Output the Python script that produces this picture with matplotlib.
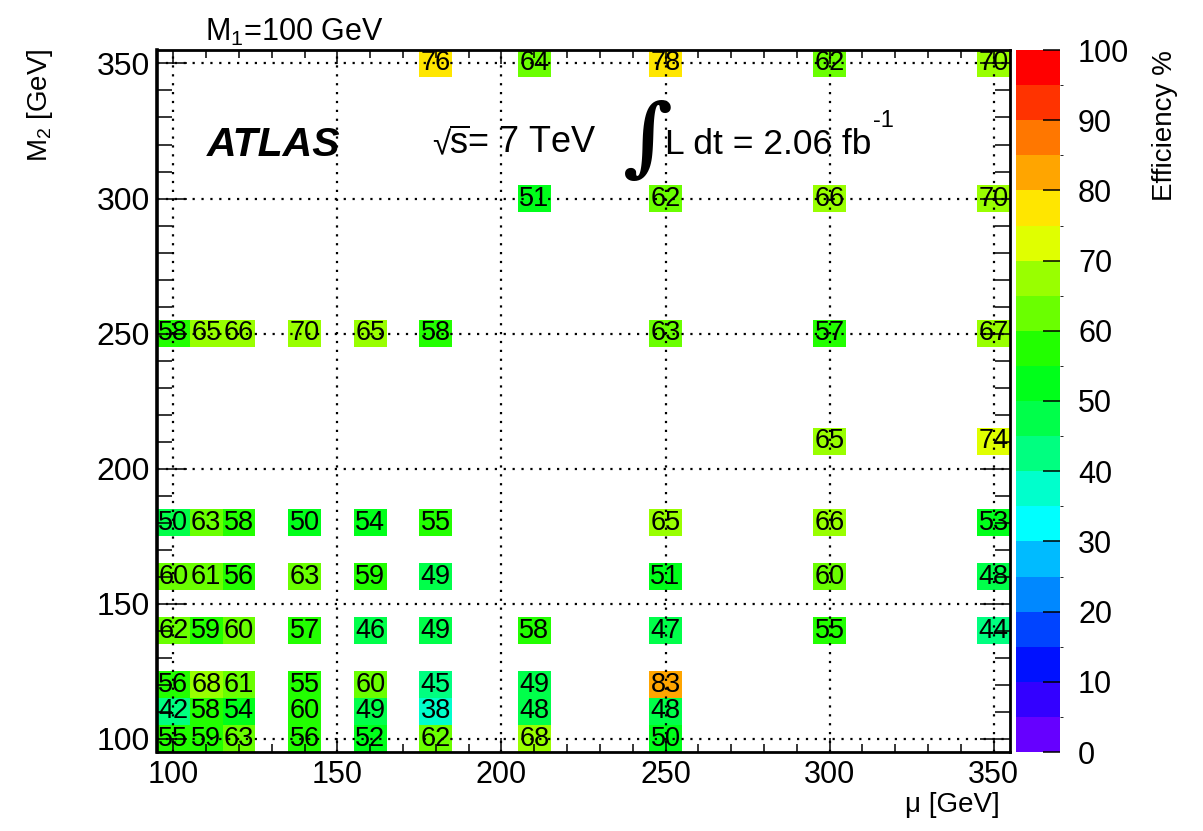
import numpy as np
import matplotlib
matplotlib.use("Agg")
import matplotlib.pyplot as plt
from matplotlib.colors import ListedColormap, BoundaryNorm

plt.rcParams['font.family'] = ['Liberation Sans', 'DejaVu Sans']
plt.rcParams['mathtext.fontset'] = 'custom'
plt.rcParams['mathtext.rm'] = 'Liberation Sans'
plt.rcParams['mathtext.it'] = 'Liberation Sans:italic'
plt.rcParams['mathtext.bf'] = 'Liberation Sans:bold'

# ---------------- data ----------------
mu_points = [100, 110, 120, 140, 160, 180, 210, 250, 300, 350]
m2_points = [100, 110, 120, 140, 160, 180, 210, 250, 300, 350]
nan = np.nan
# rows: M2 value, columns: mu value (efficiency in %)
eff_m2_100 = [55, 59, 63, 56, 52, 62, 68, 50, nan, nan]
eff_m2_110 = [42, 58, 54, 59.6, 49, 38, 48, 48, nan, nan]
eff_m2_120 = [56, 68, 61, 55, 60, 44.6, 49, 83, nan, nan]
eff_m2_140 = [62, 59, 60, 57, 46, 49, 58, 47, 55, 44]
eff_m2_160 = [60, 61, 56, 63, 59, 49, nan, 51, 60, 48]
eff_m2_180 = [49.6, 63, 58, 50, 54, 55, nan, 65, 66, 53]
eff_m2_210 = [nan, nan, nan, nan, nan, nan, nan, nan, 65, 74]
eff_m2_250 = [58, 65, 66, 69.6, 65, 58, nan, 63, 57, 67]
eff_m2_300 = [nan, nan, nan, nan, nan, nan, 51, 62, 66, 69.6]
eff_m2_350 = [nan, nan, nan, nan, nan, 76, 64, 78, 62, 69.7]
eff_rows = [eff_m2_100, eff_m2_110, eff_m2_120, eff_m2_140, eff_m2_160,
            eff_m2_180, eff_m2_210, eff_m2_250, eff_m2_300, eff_m2_350]

palette = ['#6600ff', '#3300ff', '#0011ff', '#0044ff', '#0088ff',
           '#00bbff', '#00ffff', '#00ffcc', '#00ff80', '#00ff4a',
           '#00ff1a', '#22ff00', '#6aff00', '#99ff00', '#e0ff00',
           '#ffe600', '#ffa500', '#ff7700', '#ff3300', '#ff0000']
levels = np.arange(0, 101, 5)

# ---------------- histogram grid ----------------
edges = np.arange(95, 356, 10)
centers = 0.5 * (edges[:-1] + edges[1:])
Z = np.full((len(centers), len(centers)), np.nan)
for iy, m2 in enumerate(m2_points):
    for ix, mu in enumerate(mu_points):
        v = eff_rows[iy][ix]
        if not np.isnan(v):
            Z[np.argmin(abs(centers - m2)), np.argmin(abs(centers - mu))] = v
Zm = np.ma.masked_invalid(Z)

W, H = 1203, 831
fig = plt.figure(figsize=(W / 100, H / 100), dpi=100)
ax = fig.add_axes([157 / W, 1 - 752 / H, (1010 - 157) / W, (752 - 50) / H])

cmap = ListedColormap(palette)
norm = BoundaryNorm(levels, cmap.N)
mesh = ax.pcolormesh(edges, edges, Zm, cmap=cmap, norm=norm, zorder=1)

for iy, m2 in enumerate(m2_points):
    for ix, mu in enumerate(mu_points):
        v = eff_rows[iy][ix]
        if not np.isnan(v):
            ax.text(mu, m2, f"{v:.0f}", ha='center', va='center',
                    fontsize=19.5, color='black', zorder=4)

ax.set_xlim(95, 355)
ax.set_ylim(95, 355)
ax.set_xticks(np.arange(100, 351, 50))
ax.set_yticks(np.arange(100, 351, 50))
ax.set_xticks(np.arange(100, 351, 10), minor=True)
ax.set_yticks(np.arange(100, 351, 10), minor=True)
ax.set_axisbelow(False)
ax.grid(True, which='major', color='black', linestyle=(0, (1, 3)), linewidth=1.6)
ax.tick_params(which='both', direction='in', top=True, right=True, width=1.1,
               color='black')
ax.tick_params(axis='x', which='major', length=10, pad=6, labelsize=22)
ax.tick_params(axis='x', which='minor', length=5.5)
ax.tick_params(axis='y', which='major', length=21.6, pad=5, labelsize=23)
ax.tick_params(axis='y', which='minor', length=10.8)
for s in ax.spines.values():
    s.set_linewidth(2)
    s.set_color('black')
ax.spines['left'].set_linewidth(2.6)

# colorbar
cax = fig.add_axes([1016 / W, 1 - 752 / H, (1060 - 1016) / W, (752 - 50) / H])
cb = fig.colorbar(mesh, cax=cax, ticks=np.arange(0, 101, 10))
cb.outline.set_visible(False)
cax.tick_params(direction='in', length=12, width=1.1, labelsize=22, pad=13, color='black')

# labels and annotations
fig.text(40 / W, 1 - 48 / H, r'M$_2$ [GeV]', rotation=90, ha='center', va='top', fontsize=20)
fig.text(1000 / W, 1 - 805 / H, 'μ [GeV]', ha='right', va='center', fontsize=20)
fig.text(1165 / W, 1 - 50 / H, 'Efficiency %', rotation=90, ha='center', va='top', fontsize=20)
fig.text(205 / W, 1 - 41 / H, r'M$_1$=100 GeV', ha='left', va='baseline', fontsize=22)
fig.text(207 / W, 1 - 156 / H, 'ATLAS', ha='left', va='baseline', fontsize=29.5,
         fontweight='bold', fontstyle='italic')

fig.canvas.draw()
r = fig.canvas.get_renderer()
root = fig.text(432 / W, 1 - 154 / H, '√', ha='left', va='baseline', fontsize=24)
bbr = root.get_window_extent(renderer=r)
fig.text((bbr.x1 - 1) / W, 1 - 154 / H, r'$\overline{\mathrm{s}}$= 7 TeV', ha='left',
         va='baseline', fontsize=26)
fig.text(648 / W, 1 - 141 / H, '∫', ha='center', va='center', fontsize=62,
         family='DejaVu Serif', fontweight='bold')
lum = fig.text(665 / W, 1 - 154 / H, 'L dt = 2.06 fb', ha='left', va='baseline', fontsize=25.5)
bb = lum.get_window_extent(renderer=r)
fig.text((bb.x1 + 2) / W, 1 - 127 / H, '-1', ha='left', va='baseline', fontsize=17)

fig.savefig('out.png', dpi=100)
